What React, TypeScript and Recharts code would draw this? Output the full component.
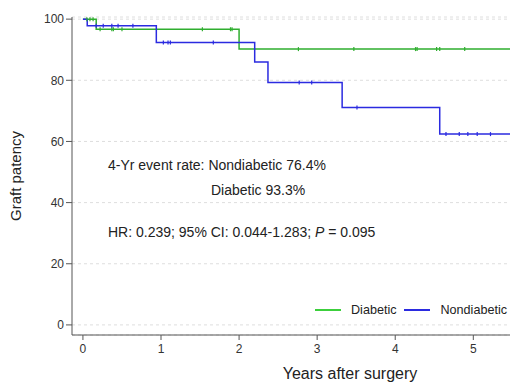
import { ComposedChart, Line, XAxis, YAxis, CartesianGrid, Label } from "recharts";

// Kaplan-Meier steps (time in years, patency %)
const diabeticTimes = [0, 0.17, 2.0];
const diabeticSurv = [100, 96.7, 90.2];
const diabeticCensor = [0.05, 0.09, 0.13, 0.22, 0.37, 0.39, 0.5, 1.53, 1.89, 1.91, 2.76, 3.47, 4.26, 4.28, 4.53, 4.57, 4.89];

const nondiabeticTimes = [0, 0.055, 0.94, 2.2, 2.37, 3.32, 4.57];
const nondiabeticSurv = [100, 97.8, 92.4, 86.0, 79.3, 71.1, 62.4];
const nondiabeticCensor = [0.17, 0.26, 0.37, 0.45, 0.64, 1.03, 1.09, 1.12, 1.67, 2.77, 2.93, 3.51, 4.65, 4.82, 4.93, 5.05, 5.22];

const xTicks = [0, 1, 2, 3, 4, 5];
const yTicks = [0, 20, 40, 60, 80, 100];
const X_MAX = 5.47;

const GREEN = "#2fae2f";
const BLUE = "#2b2be0";
const FONT = "'Liberation Sans', Arial, sans-serif";

function buildCurve(times: number[], surv: number[], censor: number[]) {
  const pts: { t: number; s: number; c?: boolean }[] = times.map((t, i) => ({ t, s: surv[i] }));
  censor.forEach((ct) => {
    let s = surv[0];
    times.forEach((t, i) => {
      if (t <= ct) s = surv[i];
    });
    pts.push({ t: ct, s, c: true });
  });
  pts.push({ t: X_MAX, s: surv[surv.length - 1] });
  return pts.sort((a, b) => a.t - b.t);
}

const diabeticData = buildCurve(diabeticTimes, diabeticSurv, diabeticCensor);
const nondiabeticData = buildCurve(nondiabeticTimes, nondiabeticSurv, nondiabeticCensor);

const censorDot = (color: string) => (props: any) => {
  const { cx, cy, payload, index } = props;
  if (!payload || !payload.c) return <g key={`e-${index}`} />;
  return <line key={`c-${index}`} x1={cx} x2={cx} y1={cy - 2} y2={cy + 2} stroke={color} strokeWidth={1.2} />;
};

const textStyle: React.CSSProperties = {
  position: "absolute",
  fontFamily: FONT,
  fontSize: 14,
  color: "#222",
  whiteSpace: "nowrap",
  lineHeight: "14px",
};

export default function App() {
  return (
    <div style={{ position: "absolute", left: 0, top: 0, width: 510, height: 383, background: "#fff" }}>
      <ComposedChart width={510} height={383} margin={{ top: 17, right: 0, bottom: 0, left: 0 }}>
        <CartesianGrid vertical={false} stroke="#dedede" strokeDasharray="3 3" />
        <XAxis
          type="number"
          dataKey="t"
          domain={[-0.14, X_MAX]}
          ticks={xTicks}
          allowDataOverflow
          height={48}
          tickSize={5}
          tickMargin={4}
          stroke="#555"
          tick={{ fontSize: 12, fill: "#333", fontFamily: FONT }}
        >
          <Label value="Years after surgery" position="insideBottom" offset={4} dx={59} style={{ fontSize: 16, fill: "#222", fontFamily: FONT }} />
        </XAxis>
        <YAxis
          type="number"
          domain={[-3.3, 100.7]}
          ticks={yTicks}
          allowDataOverflow
          width={72}
          tickSize={6}
          tickMargin={2}
          stroke="#555"
          tick={{ fontSize: 12, fill: "#333", fontFamily: FONT }}
        >
          <Label value="Graft patency" angle={-90} position="insideLeft" offset={16} style={{ fontSize: 15, fill: "#222", fontFamily: FONT, textAnchor: "middle" }} />
        </YAxis>
        <Line
          data={diabeticData}
          dataKey="s"
          type="stepAfter"
          stroke={GREEN}
          strokeWidth={1.5}
          dot={censorDot(GREEN)}
          activeDot={false}
          isAnimationActive={false}
        />
        <Line
          data={nondiabeticData}
          dataKey="s"
          type="stepAfter"
          stroke={BLUE}
          strokeWidth={1.5}
          dot={censorDot(BLUE)}
          activeDot={false}
          isAnimationActive={false}
        />
      </ComposedChart>

      <div style={{ ...textStyle, left: 108, top: 158 }}>4-Yr event rate: Nondiabetic 76.4%</div>
      <div style={{ ...textStyle, left: 211, top: 183 }}>Diabetic 93.3%</div>
      <div style={{ ...textStyle, left: 108, top: 225 }}>
        HR: 0.239; 95% CI: 0.044-1.283; <i>P</i> = 0.095
      </div>

      <div style={{ position: "absolute", left: 315, top: 303, display: "flex", alignItems: "center", fontFamily: FONT, fontSize: 12.6, color: "#222", whiteSpace: "nowrap" }}>
        <span style={{ display: "inline-block", width: 26, height: 2, background: "#3ccf3c", marginRight: 10 }} />
        <span style={{ marginRight: 7 }}>Diabetic</span>
        <span style={{ display: "inline-block", width: 26, height: 2, background: BLUE, marginRight: 11 }} />
        <span>Nondiabetic</span>
      </div>
    </div>
  );
}
